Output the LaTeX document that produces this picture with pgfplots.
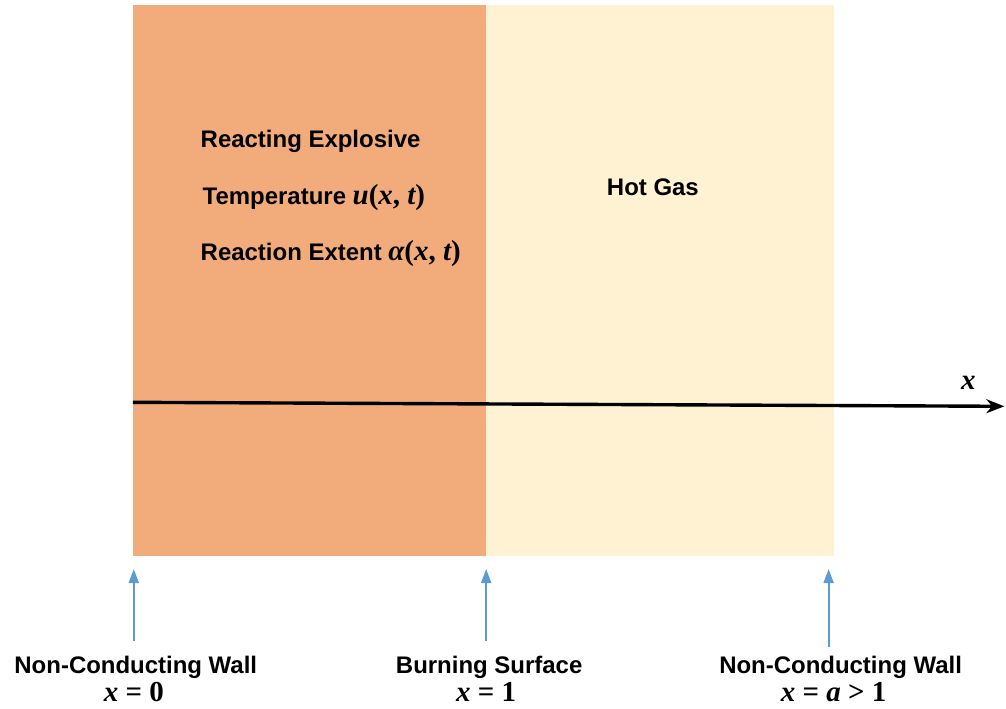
\documentclass[border=0pt]{standalone}
\usepackage{fontspec}
\setmainfont{Liberation Sans}
\newfontfamily\mfont{Liberation Serif}
\usepackage{pgfplots}
\pgfplotsset{compat=1.18}
\usetikzlibrary{arrows.meta}
\definecolor{explosive}{RGB}{242,172,123}
\definecolor{hotgas}{RGB}{255,242,210}
\definecolor{wallblue}{RGB}{91,155,213}
\newcommand{\lbl}{\fontsize{12}{14}\selectfont\bfseries}
% bold italic variables and bold upright symbols, as in the figure's equation font
\newcommand{\mv}[1]{{\fontsize{14.5}{16}\selectfont\mfont\bfseries\itshape #1}}
\newcommand{\ms}[1]{{\fontsize{14.5}{16}\selectfont\mfont\bfseries #1}}
\begin{document}
\begin{tikzpicture}
\begin{axis}[
    width=503pt, height=355pt,
    scale only axis,
    xmin=0, xmax=1006,
    ymin=0, ymax=710,
    y dir=reverse,
    hide axis,
    clip=false,
]
% page extent
\addplot[draw=none] coordinates {(0,0) (1006,710)};
% regions
\addplot[fill=explosive, draw=none] coordinates {(133,5) (487,5) (487,557) (133,557)} -- cycle;
\addplot[fill=hotgas, draw=none] coordinates {(487,5) (835,5) (835,557) (487,557)} -- cycle;
% x axis
\addplot[black, line width=1.7pt, -{Stealth[length=9pt,width=7pt]}] coordinates {(133,403) (1006,407)};
% wall arrows
\addplot[wallblue, line width=1pt, -{Triangle[length=7pt,width=5pt]}] coordinates {(134,642) (134,570)};
\addplot[wallblue, line width=1pt, -{Triangle[length=7pt,width=5pt]}] coordinates {(487,642) (487,570)};
\addplot[wallblue, line width=1pt, -{Triangle[length=7pt,width=5pt]}] coordinates {(830,648) (830,570)};
% labels
\node[anchor=west, font=\lbl] at (axis cs:194,142) {Reacting Explosive};
\node[anchor=west, font=\lbl] at (axis cs:196,198) {Temperature \mv{u}\ms{(}\mv{x}\ms{, }\mv{t}\ms{)}};
\node[anchor=west, font=\lbl] at (axis cs:194,254) {Reaction Extent \mv{α}\ms{(}\mv{x}\ms{, }\mv{t}\ms{)}};
\node[font=\lbl] at (axis cs:654,188) {Hot Gas};
\node[font=\lbl] at (axis cs:970,384) {\mv{x}};
\node[font=\lbl] at (axis cs:136,668) {Non-Conducting Wall};
\node[font=\lbl] at (axis cs:134,693) {\mv{x}\ms{ = 0}};
\node[font=\lbl] at (axis cs:490,668) {Burning Surface};
\node[font=\lbl] at (axis cs:487,693) {\mv{x}\ms{ = 1}};
\node[font=\lbl] at (axis cs:842,668) {Non-Conducting Wall};
\node[font=\lbl] at (axis cs:835,693) {\mv{x}\ms{ = }\mv{a}\ms{ > 1}};
\end{axis}
\end{tikzpicture}
\end{document}
